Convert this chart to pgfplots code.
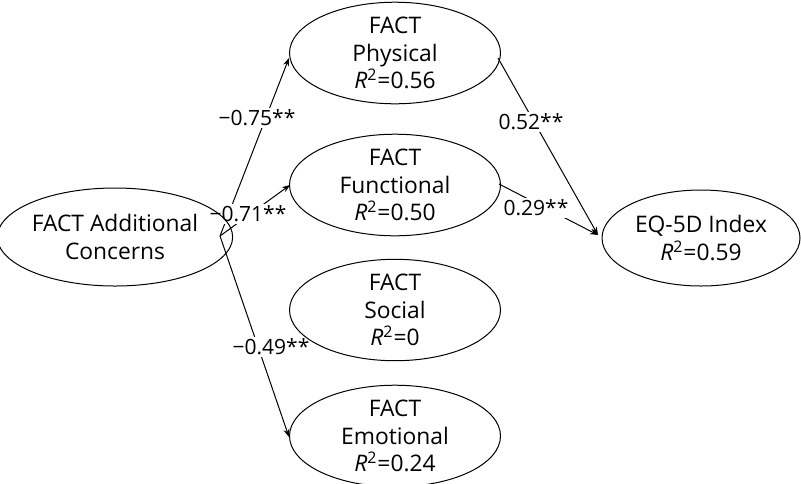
\documentclass[border=0pt]{standalone}
\usepackage{pgfplots}
\pgfplotsset{compat=1.18}
\usepackage{fontspec}
\setmainfont{Open Sans}
\usetikzlibrary{shapes.geometric,arrows.meta}
\newcommand{\Rsq}[1]{\textit{R}\textsuperscript{2}=#1}
\begin{document}
\begin{tikzpicture}
\begin{axis}[
  width=400.5pt, height=241.5pt, scale only axis,
  xmin=0, xmax=801, ymin=0, ymax=483, y dir=reverse,
  hide axis, clip=false,
  every axis plot/.append style={line width=0.5pt, black},
]
% paths (coefficients)
\addplot[-{Stealth[length=4pt,width=3pt]}] coordinates {(220,236) (289,58)};
\addplot[-{Stealth[length=4pt,width=3pt]}] coordinates {(220,236) (290,185)};
\addplot[-{Stealth[length=4pt,width=3pt]}] coordinates {(220,236) (289,437)};
\addplot[-{Stealth[length=4pt,width=3pt]}] coordinates {(498,58) (598,235)};
\addplot[-{Stealth[length=4pt,width=3pt]}] coordinates {(499,184) (598,235)};
% coefficient labels
\addplot[draw=none, mark=none, nodes near coords, point meta=explicit symbolic,
  every node near coord/.style={anchor=center, fill=white, inner sep=1pt,
    font=\fontsize{10.5}{13}\selectfont}]
  coordinates {(257,118) [−0.75**] (248,214) [−0.71**] (271,347) [−0.49**]
               (531,122) [0.52**] (536,208) [0.29**]};
% latent variables
\addplot[draw=none, mark=none, nodes near coords, point meta=explicit symbolic,
  every node near coord/.style={anchor=center, ellipse, draw, line width=0.5pt,
    inner sep=0pt, minimum width=105.5pt, minimum height=49pt, align=center,
    font=\fontsize{11.4}{13.75}\selectfont}]
  coordinates {(115,237) [FACT Additional\\Concerns]
               (395,53) [FACT\\Physical\\\Rsq{0.56}]
               (395,185) [FACT\\Functional\\\Rsq{0.50}]
               (395,310) [FACT\\Social\\\Rsq{0}]
               (395,436) [FACT\\Emotional\\\Rsq{0.24}]};
\addplot[draw=none, mark=none, nodes near coords, point meta=explicit symbolic,
  every node near coord/.style={anchor=center, ellipse, draw, line width=0.5pt,
    inner sep=0pt, minimum width=99pt, minimum height=48pt, align=center,
    font=\fontsize{11.4}{13.75}\selectfont}]
  coordinates {(701,238) [EQ-5D Index\\\Rsq{0.59}]};
\end{axis}
\pgfresetboundingbox
\path[use as bounding box] (current axis.south west) rectangle (current axis.north east);
\end{tikzpicture}
\end{document}
